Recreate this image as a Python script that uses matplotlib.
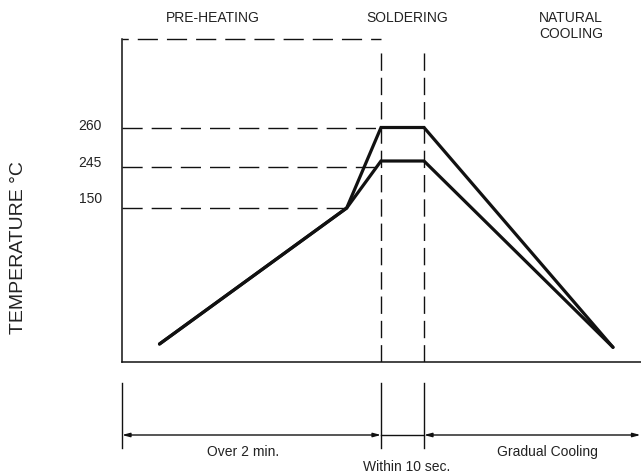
import matplotlib
matplotlib.use('Agg')
import matplotlib.pyplot as plt

plt.rcParams['font.family'] = ['Liberation Sans', 'DejaVu Sans']
plt.rcParams['lines.scale_dashes'] = False

# Schematic soldering profile (x = time, y = temperature, both in schematic units)
time_pts = [37.5, 224.7, 259, 302, 491]
upper_temp = [18, 154, 234.5, 234.5, 14.7]
lower_temp = [18, 154, 201, 201, 14.7]

# Temperature guide levels
level_labels = ['260', '245', '150']
level_y = [234.5, 195, 154]
level_end = [259, 259, 224.7]
label_y = [236, 199, 163]
top_y = 323

# Phase boundaries on the time axis
solder_start = 259
solder_end = 302
x_end = 519

phase_titles = ['PRE-HEATING', 'SOLDERING', 'NATURAL\nCOOLING']
phase_title_x = [91, 285, 449]
bottom_texts = ['Over 2 min.', 'Gradual Cooling']
bottom_text_x = [121, 425]

ink = '#111111'
hdash = (0, (14.5, 6.5))
topdash = (10, (14.5, 6.5))
vdash = (0, (12.5, 5))

fig = plt.figure(figsize=(6.41, 4.75), dpi=100)
ax = fig.add_axes([122 / 641, 113 / 475, 519 / 641, 323 / 475])
ax.set_xlim(0, x_end)
ax.set_ylim(0, top_y)
for s in ['top', 'right']:
    ax.spines[s].set_visible(False)
for s in ['left', 'bottom']:
    ax.spines[s].set_linewidth(1.1)
    ax.spines[s].set_color(ink)
ax.set_xticks([])
ax.set_yticks([])

# dashed guide lines
ax.plot([0, solder_start], [top_y, top_y], color=ink, lw=1.0, linestyle=topdash, clip_on=False)
for y, xe in zip(level_y, level_end):
    ax.plot([0, xe], [y, y], color=ink, lw=1.0, linestyle=hdash)
for x in [solder_start, solder_end]:
    ax.plot([x, x], [0, 310], color=ink, lw=1.0, linestyle=vdash)

# profile curves
ax.plot(time_pts, upper_temp, color=ink, lw=2.3, solid_joinstyle='miter', solid_capstyle='round')
ax.plot(time_pts, lower_temp, color=ink, lw=2.3, solid_joinstyle='miter', solid_capstyle='round')

# temperature labels
for lab, y in zip(level_labels, label_y):
    ax.text(-20, y, lab, ha='right', va='center', fontsize=10, color='#222222')

# phase titles
ax.text(phase_title_x[0], 344, phase_titles[0], ha='center', va='center', fontsize=10, color='#222222')
ax.text(phase_title_x[1], 344, phase_titles[1], ha='center', va='center', fontsize=10, color='#222222')
ax.text(phase_title_x[2], 336, phase_titles[2], ha='center', va='center', fontsize=10,
        color='#222222', linespacing=1.1)

# time axis below the chart
for x in [0, solder_start, solder_end]:
    ax.plot([x, x], [-21, -86], color=ink, lw=1.0, clip_on=False)
arrow = dict(arrowstyle='<|-|>,head_length=0.45,head_width=0.12', color=ink, lw=1.0,
             shrinkA=0, shrinkB=0)
ax.annotate('', xy=(0, -73), xytext=(solder_start, -73), arrowprops=arrow, annotation_clip=False)
ax.annotate('', xy=(solder_end, -73), xytext=(x_end - 0.5, -73), arrowprops=arrow, annotation_clip=False)
ax.plot([solder_start, solder_end], [-73, -73], color=ink, lw=1.0, clip_on=False)

for t, x in zip(bottom_texts, bottom_text_x):
    ax.text(x, -90, t, ha='center', va='center', fontsize=10, color='#222222')
ax.text(285, -105, 'Within 10 sec.', ha='center', va='center', fontsize=10, color='#222222')

fig.text(19 / 641, (475 - 248) / 475, 'TEMPERATURE °C', rotation=90, ha='center', va='center',
         fontsize=14, color='#222222')

fig.savefig('out.png', dpi=100)
